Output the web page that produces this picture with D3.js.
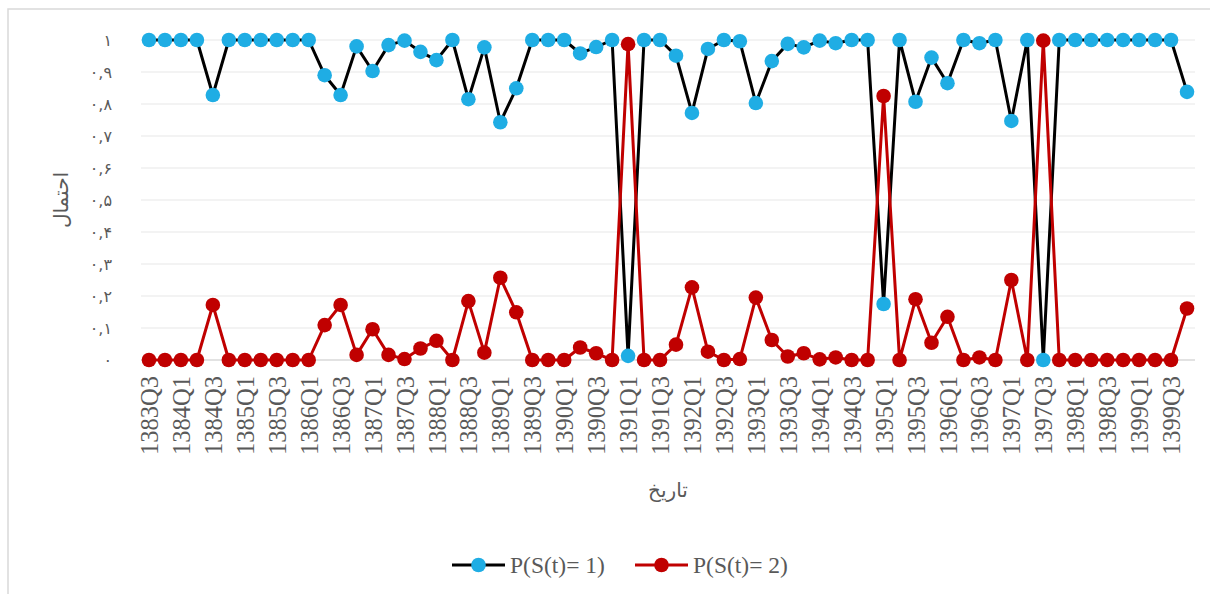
<!DOCTYPE html>
<html>
<head>
<meta charset="utf-8">
<script src="https://cdn.jsdelivr.net/npm/d3@7"></script>
<style>
  body { margin: 0; background: #fff; }
  text { font-family: "Liberation Serif", "Times New Roman", serif; fill: #595959; }
  .fa { font-family: "DejaVu Sans", "Noto Sans", sans-serif; }
</style>
</head>
<body>
<svg id="chart"></svg>
<script>
const width = 1210, height = 594;

// quarters 1383Q3 .. 1399Q4
const years = d3.range(1383, 1400);
const quarters = [];
years.forEach(y => [1, 2, 3, 4].forEach(q => {
  if (y === 1383 && q < 3) return;
  quarters.push(y + "Q" + q);
}));

// P(S(t)=1)
const state1 = [
  1, 1, 1, 1, 0.828, 1, 1, 1, 1, 1,
  1, 0.89, 0.828, 0.98, 0.903, 0.984, 0.998, 0.963, 0.937, 1,
  0.815, 0.977, 0.743, 0.849, 1, 1, 1, 0.958, 0.978, 1,
  0.013, 1, 1, 0.951, 0.772, 0.972, 1, 0.996, 0.803, 0.934,
  0.988, 0.977, 0.998, 0.99, 1, 1, 0.175, 1, 0.807, 0.945,
  0.865, 1, 0.99, 1, 0.747, 1, 0, 1, 1, 1,
  1, 1, 1, 1, 1, 0.838
];

// P(S(t)=2)
const state2 = [
  0, 0, 0, 0, 0.172, 0, 0, 0, 0, 0,
  0, 0.109, 0.172, 0.016, 0.096, 0.016, 0.003, 0.036, 0.06, 0,
  0.184, 0.023, 0.257, 0.149, 0, 0, 0, 0.039, 0.021, 0,
  0.987, 0, 0, 0.048, 0.227, 0.026, 0, 0.003, 0.195, 0.0625,
  0.011, 0.021, 0.002, 0.008, 0, 0, 0.825, 0, 0.19, 0.054,
  0.135, 0, 0.008, 0, 0.25, 0, 0.998, 0, 0, 0,
  0, 0, 0, 0, 0, 0.161
];

const yTicks = [0, 0.1, 0.2, 0.3, 0.4, 0.5, 0.6, 0.7, 0.8, 0.9, 1];
const yTickLabels = ["۰", "۰,۱", "۰,۲", "۰,۳", "۰,۴", "۰,۵", "۰,۶", "۰,۷", "۰,۸", "۰,۹", "۱"];

const series = [
  { name: "P(S(t)= 1)", values: state1, line: "#000000", dot: "#1fade4" },
  { name: "P(S(t)= 2)", values: state2, line: "#c00000", dot: "#c00000" }
];

const svg = d3.select("#chart").attr("width", width).attr("height", height);

// chart border
svg.append("rect")
  .attr("x", 8).attr("y", 9)
  .attr("width", 1300).attr("height", 700)
  .attr("fill", "none")
  .attr("stroke", "#d9d9d9")
  .attr("stroke-width", 1.5);

const plot = { left: 141, right: 1195, top: 40, bottom: 360 };

const x = d3.scalePoint()
  .domain(quarters)
  .range([plot.left, plot.right])
  .padding(0.5);

const y = d3.scaleLinear()
  .domain([0, 1])
  .range([plot.bottom, plot.top]);

// gridlines
svg.append("g")
  .selectAll("line")
  .data(yTicks.slice(1))
  .enter()
  .append("line")
  .attr("x1", plot.left).attr("x2", plot.right)
  .attr("y1", d => y(d)).attr("y2", d => y(d))
  .attr("stroke", "#efefef")
  .attr("stroke-width", 1.5);

// y axis labels
const yAxis = svg.append("g")
  .attr("transform", `translate(${plot.left - 26}, 0)`)
  .call(d3.axisLeft(y).tickValues(yTicks).tickSize(0).tickFormat((d, i) => yTickLabels[i]));
yAxis.select(".domain").remove();
yAxis.selectAll("text")
  .attr("class", "fa")
  .style("font-size", "16px")
  .attr("fill", "#595959");

// x axis
const xAxis = svg.append("g")
  .attr("transform", `translate(0, ${plot.bottom})`)
  .call(d3.axisBottom(x).tickSize(0).tickValues(quarters.filter((d, i) => i % 2 === 0)));
xAxis.select(".domain")
  .attr("stroke", "#d9d9d9")
  .attr("stroke-width", 1.5)
  .attr("d", `M${plot.left},0H${plot.right}`);
xAxis.selectAll("text")
  .style("font-size", "24.5px")
  .style("font-family", "'Liberation Serif', serif")
  .attr("fill", "#595959")
  .attr("text-anchor", "end")
  .attr("dy", "0.35em")
  .attr("transform", "translate(0, 16) rotate(-90)")
  .attr("y", 0)
  .attr("x", 0);

// lines and markers
const line = d3.line()
  .x((d, i) => x(quarters[i]))
  .y(d => y(d));

series.forEach(s => {
  svg.append("path")
    .datum(s.values)
    .attr("d", line)
    .attr("fill", "none")
    .attr("stroke", s.line)
    .attr("stroke-width", 3)
    .attr("stroke-linejoin", "round");
});
series.forEach(s => {
  svg.append("g")
    .selectAll("circle")
    .data(s.values)
    .enter()
    .append("circle")
    .attr("cx", (d, i) => x(quarters[i]))
    .attr("cy", d => y(d))
    .attr("r", 7.3)
    .attr("fill", s.dot);
});

// axis titles
svg.append("text")
  .attr("class", "fa")
  .attr("transform", "translate(68, 200) rotate(-90)")
  .attr("text-anchor", "middle")
  .style("font-size", "20px")
  .text("احتمال");

svg.append("text")
  .attr("class", "fa")
  .attr("x", (plot.left + plot.right) / 2)
  .attr("y", 497)
  .attr("text-anchor", "middle")
  .style("font-size", "20px")
  .text("تاریخ");

// legend
const legendX = [452, 635];
series.forEach((s, i) => {
  const g = svg.append("g").attr("transform", `translate(${legendX[i]}, 565)`);
  g.append("line")
    .attr("x1", 0).attr("x2", 53)
    .attr("stroke", s.line)
    .attr("stroke-width", 3);
  g.append("circle")
    .attr("cx", 26.5)
    .attr("r", 7.3)
    .attr("fill", s.dot);
  g.append("text")
    .attr("x", 58)
    .attr("dy", "0.35em")
    .style("font-size", "23.5px")
    .text(s.name);
});
</script>
</body>
</html>
